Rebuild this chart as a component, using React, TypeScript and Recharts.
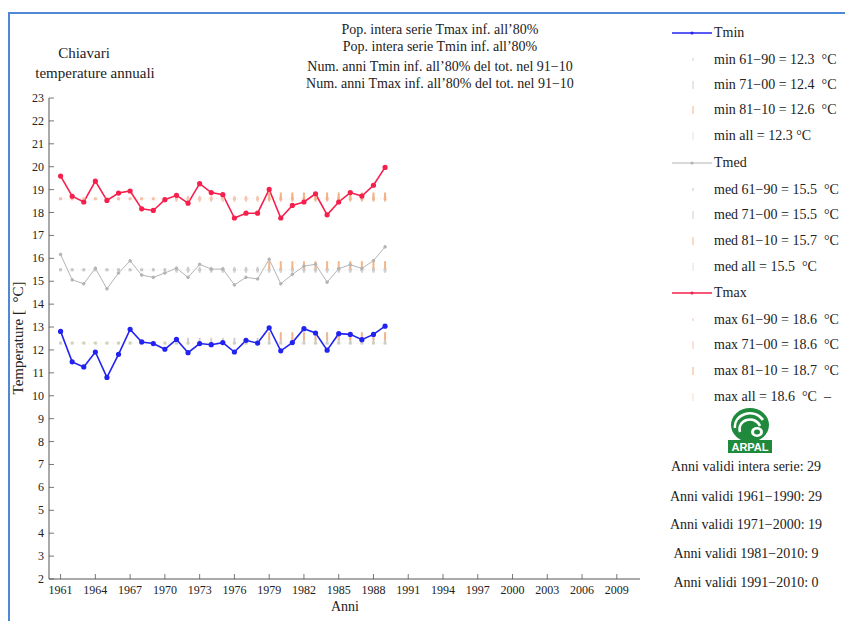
import React from 'react';
import { LineChart, Line, XAxis, YAxis, Legend } from 'recharts';

const years = [1961, 1962, 1963, 1964, 1965, 1966, 1967, 1968, 1969, 1970, 1971, 1972, 1973, 1974, 1975, 1976, 1977, 1978, 1979, 1980, 1981, 1982, 1983, 1984, 1985, 1986, 1987, 1988, 1989];
const tmin = [12.81, 11.48, 11.26, 11.91, 10.8, 11.81, 12.9, 12.35, 12.28, 12.03, 12.46, 11.88, 12.28, 12.23, 12.32, 11.91, 12.42, 12.3, 12.97, 11.96, 12.32, 12.93, 12.74, 11.99, 12.71, 12.68, 12.45, 12.68, 13.04];
const tmed = [16.17, 15.06, 14.89, 15.57, 14.67, 15.36, 15.89, 15.27, 15.17, 15.36, 15.57, 15.17, 15.74, 15.53, 15.53, 14.84, 15.17, 15.1, 15.96, 14.89, 15.3, 15.66, 15.74, 14.96, 15.55, 15.72, 15.56, 15.9, 16.5];
const tmax = [19.59, 18.71, 18.46, 19.37, 18.53, 18.85, 18.94, 18.16, 18.09, 18.56, 18.75, 18.41, 19.26, 18.87, 18.78, 17.76, 17.97, 17.97, 19.01, 17.76, 18.31, 18.46, 18.82, 17.9, 18.46, 18.87, 18.72, 19.19, 19.97];

// mean periods (drawn over the years where markers are visible)
const periodIds = ['p6190', 'p7100', 'p8110', 'pall'];
const periodFrom = [1961, 1971, 1979, 1961];
const periodTo = [1989, 1989, 1989, 1989];
const meanMin = [12.3, 12.4, 12.6, 12.3];
const meanMed = [15.5, 15.5, 15.7, 15.5];
const meanMax = [18.6, 18.6, 18.7, 18.6];

const xTicks = [1961, 1964, 1967, 1970, 1973, 1976, 1979, 1982, 1985, 1988, 1991, 1994, 1997, 2000, 2003, 2006, 2009];
const yTicks = [2, 3, 4, 5, 6, 7, 8, 9, 10, 11, 12, 13, 14, 15, 16, 17, 18, 19, 20, 21, 22, 23];

const legendMin = ['min 61\u221290 = 12.3  \u00b0C', 'min 71\u221200 = 12.4  \u00b0C', 'min 81\u221210 = 12.6  \u00b0C', 'min all = 12.3 \u00b0C'];
const legendMed = ['med 61\u221290 = 15.5  \u00b0C', 'med 71\u221200 = 15.5  \u00b0C', 'med 81\u221210 = 15.7  \u00b0C', 'med all = 15.5  \u00b0C'];
const legendMax = ['max 61\u221290 = 18.6  \u00b0C', 'max 71\u221200 = 18.6  \u00b0C', 'max 81\u221210 = 18.7  \u00b0C', 'max all = 18.6  \u00b0C  \u2013'];
const anniValidi = ['Anni validi intera serie: 29', 'Anni validi 1961\u22121990: 29', 'Anni validi 1971\u22122000: 19', 'Anni validi 1981\u22122010: 9', 'Anni validi 1991\u22122010: 0'];
const titleLeft = ['Chiavari', 'temperature annuali'];
const titleCenter = ["Pop. intera serie Tmax inf. all\u201980%", "Pop. intera serie Tmin inf. all\u201980%", "Num. anni Tmin inf. all\u201980% del tot. nel 91\u221210", "Num. anni Tmax inf. all\u201980% del tot. nel 91\u221210"];

const rows = years.map((year, i) => {
  const r: any = { year, tmin: tmin[i], tmed: tmed[i], tmax: tmax[i] };
  periodIds.forEach((id, k) => {
    const on = year >= periodFrom[k] && year <= periodTo[k];
    r['min_' + id] = on ? meanMin[k] : null;
    r['med_' + id] = on ? meanMed[k] : null;
    r['max_' + id] = on ? meanMax[k] : null;
  });
  return r;
});

const FONT = '"Liberation Serif", "Times New Roman", serif';
const AX = '#555';
const BLUE = '#2323f0';
const GREY = '#b4b4b4';
const RED = '#f5204e';

const markColors: Record<string, string[]> = {
  min: ['#cfd1b8', '#cdcdcd', '#f3b48c', '#e6e6dc'],
  med: ['#c6c6c6', '#cecece', '#f4b689', '#e2e2e2'],
  max: ['#f6c0ab', '#f4c8b4', '#f2b084', '#f8dcd2'],
};

const squareDot = (color: string) => (p: any) =>
  p.cx == null || p.cy == null ? <g key={p.key} /> : <rect key={p.key} x={p.cx - 1.5} y={p.cy - 1.5} width={3} height={3} fill={color} />;
const barDot = (color: string, h: number, w: number) => (p: any) =>
  p.cx == null || p.cy == null ? <g key={p.key} /> : <rect key={p.key} x={p.cx - w / 2} y={p.cy - h / 2} width={w} height={h} fill={color} />;

const LeftTick = (p: any) => (
  <g>
    <line x1={p.x + 5} x2={p.x + 10} y1={p.y} y2={p.y} stroke={AX} strokeWidth={0.8} />
    <text x={p.x} y={p.y} dy={4} textAnchor="end" fontSize={12} fill="#222" fontFamily={FONT}>{p.payload.value}</text>
  </g>
);
const RightTick = (p: any) => (
  <line x1={p.x - 5} x2={p.x} y1={p.y} y2={p.y} stroke={AX} strokeWidth={0.8} />
);
const BottomTick = (p: any) => (
  <g>
    <line x1={p.x} x2={p.x} y1={p.y - 6} y2={p.y - 11} stroke={AX} strokeWidth={0.8} />
    <text x={p.x} y={p.y} dy={9} textAnchor="middle" fontSize={12} fill="#222" fontFamily={FONT}>{p.payload.value}</text>
  </g>
);
const TopTick = (p: any) => (
  <line x1={p.x} x2={p.x} y1={p.y} y2={p.y + 5} stroke={AX} strokeWidth={0.8} />
);

const YLabel = () => (
  <text x={23} y={338} transform="rotate(-90 23 338)" textAnchor="middle" fontSize={15} fill="#222" fontFamily={FONT} style={{ whiteSpace: 'pre' }}>{'Temperature [  \u00b0C]'}</text>
);
const XLabel = () => (
  <text x={345} y={611} textAnchor="middle" fontSize={14} fill="#222" fontFamily={FONT}>Anni</text>
);

const legendRowsY = [33, 60, 85, 110, 136, 163, 190, 215, 241, 267, 293, 320, 345, 371, 397];
const anniY = [467, 497, 525, 554, 583];
const LX = 660; // legend wrapper left
const LY = 0;

const ArpalLogo = () => (
  <svg width={46} height={46} viewBox="0 0 46 46">
    <ellipse cx={23} cy={17} rx={19} ry={17} fill="#1f8a3c" />
    <path d="M8 20 A15 13 0 0 1 36 12" stroke="#fff" strokeWidth={2.5} fill="none" />
    <path d="M13 24 A10 9 0 0 1 33 18" stroke="#fff" strokeWidth={2.5} fill="none" />
    <ellipse cx={30} cy={24} rx={6} ry={5} fill="#fff" />
    <ellipse cx={30} cy={24} rx={3} ry={2.5} fill="#1f8a3c" />
    <rect x={1} y={32} width={44} height={13} fill="#1f8a3c" />
    <text x={23} y={43} textAnchor="middle" fontSize={11} fontWeight="bold" fill="#fff" fontFamily="Arial, sans-serif">ARPAL</text>
  </svg>
);

const LegendPanel = () => {
  const items: any[] = [];
  const groups = [
    { name: 'Tmin', color: BLUE, width: 1.5, labels: legendMin, key: 'min' },
    { name: 'Tmed', color: GREY, width: 1, labels: legendMed, key: 'med' },
    { name: 'Tmax', color: RED, width: 1.5, labels: legendMax, key: 'max' },
  ];
  const txt: React.CSSProperties = { position: 'absolute', fontFamily: FONT, fontSize: 14, color: '#222', whiteSpace: 'pre', lineHeight: '16px' };
  groups.forEach((g, gi) => {
    const cy = legendRowsY[gi * 5] - LY;
    items.push(
      <svg key={g.name + 's'} style={{ position: 'absolute', left: 672 - LX, top: cy - 4 }} width={42} height={8}>
        <line x1={0} x2={40} y1={4} y2={4} stroke={g.color} strokeWidth={g.width} />
        <circle cx={20} cy={4} r={1.6} fill={g.color} />
      </svg>
    );
    items.push(<div key={g.name} style={{ ...txt, left: 714 - LX, top: cy - 8 }}>{g.name}</div>);
    g.labels.forEach((l, li) => {
      const y = legendRowsY[gi * 5 + 1 + li] - LY;
      items.push(
        <svg key={g.key + li + 'm'} style={{ position: 'absolute', left: 690 - LX, top: y - 5 }} width={6} height={10}>
          <rect x={2} y={li === 0 ? 3 : 1} width={2} height={li === 0 ? 3 : 8} fill={markColors[g.key][li]} opacity={0.5} />
        </svg>
      );
      items.push(<div key={g.key + li} style={{ ...txt, left: 714 - LX, top: y - 8 }}>{l}</div>);
    });
  });
  items.push(
    <div key="logo" style={{ position: 'absolute', left: 727 - LX, top: 408 - LY }}>
      <ArpalLogo />
    </div>
  );
  anniValidi.forEach((a, i) => {
    items.push(
      <div key={'a' + i} style={{ ...txt, left: 660 - LX, width: 172, textAlign: 'center', top: anniY[i] - 8 - LY }}>{a}</div>
    );
  });
  return <div style={{ position: 'relative', width: 185, height: 621 }}>{items}</div>;
};

export default function App() {
  return (
    <div style={{ position: 'absolute', left: 0, top: 0, width: 845, height: 621, background: '#fff', overflow: 'hidden' }}>
      <div style={{ position: 'absolute', left: 8, top: 12, width: 837, height: 609, borderLeft: '2px solid #4f88d4', borderTop: '2px solid #4f88d4' }} />
      {titleLeft.map((t, i) => (
        <div key={t} style={{ position: 'absolute', left: i === 0 ? 9 : 20, width: 150, textAlign: 'center', top: (i === 0 ? 53 : 73) - 9, fontFamily: FONT, fontSize: 15, lineHeight: '18px', color: '#222', whiteSpace: 'pre' }}>{t}</div>
      ))}
      {titleCenter.map((t, i) => (
        <div key={t} style={{ position: 'absolute', left: 240, width: 400, textAlign: 'center', top: [30, 47, 67, 84][i] - 8, fontFamily: FONT, fontSize: 14, lineHeight: '16px', color: '#222', whiteSpace: 'pre' }}>{t}</div>
      ))}
      <div style={{ position: 'absolute', left: 0, top: 0 }}>
        <LineChart width={845} height={621} data={rows} margin={{ top: 98, right: 205, bottom: 12, left: 19 }}>
          <XAxis xAxisId="b" dataKey="year" type="number" domain={[1960, 2011]} ticks={xTicks} interval={0} tickSize={0} tickMargin={6} tick={<BottomTick />} axisLine={{ stroke: AX }} height={30} label={<XLabel />} allowDataOverflow />
          <XAxis xAxisId="t" orientation="top" dataKey="year" type="number" domain={[1960, 2011]} ticks={xTicks} interval={0} tickSize={0} tickMargin={0} tick={<TopTick />} axisLine={{ stroke: AX }} height={0} allowDataOverflow />
          <YAxis yAxisId="l" type="number" domain={[2, 23]} ticks={yTicks} interval={0} tickSize={0} tickMargin={5} tick={<LeftTick />} axisLine={{ stroke: AX }} width={30} label={<YLabel />} allowDataOverflow />
          <YAxis yAxisId="r" orientation="right" type="number" domain={[2, 23]} ticks={yTicks} interval={0} tickSize={0} tickMargin={0} tick={<RightTick />} axisLine={{ stroke: AX }} width={0} allowDataOverflow />
          <Legend layout="vertical" align="center" verticalAlign="middle" content={() => <LegendPanel />} wrapperStyle={{ position: 'absolute', left: LX, top: LY, width: 185, height: 621 }} />
          {(['min', 'med', 'max'] as const).map((v) => [
            <Line key={v + 'all'} xAxisId="b" yAxisId="l" dataKey={v + '_pall'} stroke={markColors[v][3]} strokeDasharray="1 3" strokeWidth={1} dot={false} activeDot={false} legendType="none" isAnimationActive={false} />,
            <Line key={v + '6190'} xAxisId="b" yAxisId="l" dataKey={v + '_p6190'} stroke="none" dot={squareDot(markColors[v][0])} activeDot={false} legendType="none" isAnimationActive={false} />,
            <Line key={v + '7100'} xAxisId="b" yAxisId="l" dataKey={v + '_p7100'} stroke="none" dot={barDot(markColors[v][1], 6, 1.8)} activeDot={false} legendType="none" isAnimationActive={false} />,
            <Line key={v + '8110'} xAxisId="b" yAxisId="l" dataKey={v + '_p8110'} stroke="none" dot={barDot(markColors[v][2], 8, 2)} activeDot={false} legendType="none" isAnimationActive={false} />,
          ])}
          <Line xAxisId="b" yAxisId="l" dataKey="tmed" stroke={GREY} strokeWidth={1} dot={{ r: 1.3, fill: GREY, stroke: GREY }} activeDot={false} isAnimationActive={false} />
          <Line xAxisId="b" yAxisId="l" dataKey="tmin" stroke={BLUE} strokeWidth={1.6} dot={{ r: 1.8, fill: BLUE, stroke: BLUE }} activeDot={false} isAnimationActive={false} />
          <Line xAxisId="b" yAxisId="l" dataKey="tmax" stroke={RED} strokeWidth={1.6} dot={{ r: 1.8, fill: RED, stroke: RED }} activeDot={false} isAnimationActive={false} />
        </LineChart>
      </div>
    </div>
  );
}
